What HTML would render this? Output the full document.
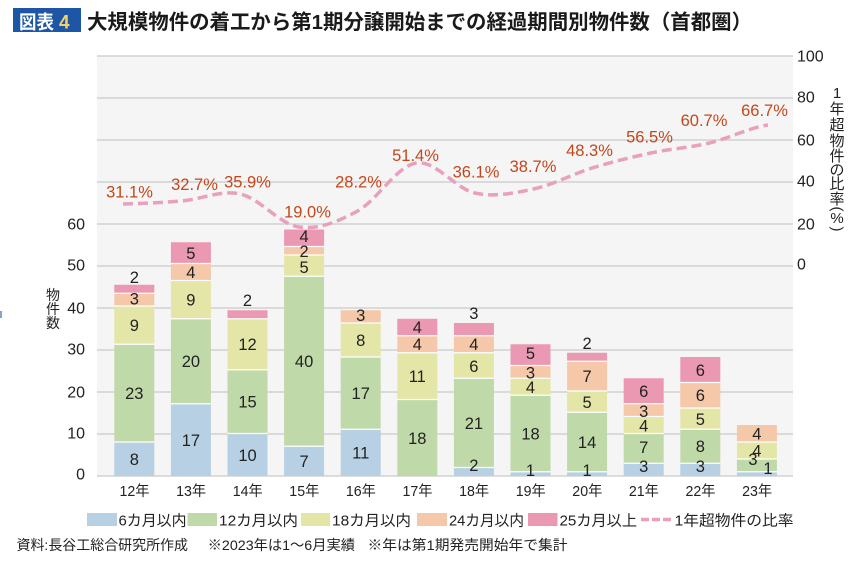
<!DOCTYPE html>
<html><head><meta charset="utf-8">
<style>
html,body{margin:0;padding:0;background:#fff;}
svg{display:block;}
text{font-family:"Liberation Sans","Noto Sans CJK JP",sans-serif;}
.n{font-size:16.5px;fill:#222;text-anchor:middle;}
.p{font-size:16.5px;fill:#c4471c;text-anchor:middle;}
.tl{font-size:16px;fill:#222;text-anchor:end;}
.tr{font-size:16px;fill:#222;}
.xl{font-size:14.5px;fill:#222;}
.lg{font-size:15px;fill:#222;}
.ft{font-size:14px;fill:#222;}
.vt{font-size:14px;fill:#222;text-anchor:middle;}
.vr{font-size:15px;fill:#222;text-anchor:middle;}
</style></head>
<body>
<svg width="854" height="561" viewBox="0 0 854 561" xmlns="http://www.w3.org/2000/svg">
<rect width="854" height="561" fill="#fff"/>
<!-- title -->
<rect x="13" y="8" width="68" height="24" fill="#1d56a5"/>
<text x="19" y="28.5" font-size="19" font-weight="bold" fill="#fff" textLength="35" lengthAdjust="spacingAndGlyphs">図表</text>
<text x="59" y="28.5" font-size="19" font-weight="bold" fill="#f2d36b">4</text>
<text x="87" y="29" font-size="20.5" font-weight="bold" fill="#1a1a1a" textLength="665" lengthAdjust="spacingAndGlyphs">大規模物件の着工から第1期分譲開始までの経過期間別物件数（首都圏）</text>

<!-- plot area -->
<rect x="97" y="56" width="696" height="420" fill="#f5f5f5"/>
<g stroke="#cbcbcb" stroke-width="1.2">
<line x1="97" y1="56" x2="793" y2="56"/>
<line x1="97" y1="98" x2="793" y2="98"/>
<line x1="97" y1="140" x2="793" y2="140"/>
<line x1="97" y1="182" x2="793" y2="182"/>
<line x1="97" y1="224" x2="793" y2="224"/>
<line x1="97" y1="266" x2="793" y2="266"/>
<line x1="97" y1="308" x2="793" y2="308"/>
<line x1="97" y1="350" x2="793" y2="350"/>
<line x1="97" y1="392" x2="793" y2="392"/>
<line x1="97" y1="434" x2="793" y2="434"/>
<line x1="97" y1="476" x2="793" y2="476"/>
</g>

<!-- left ticks -->
<text class="tl" x="85" y="229.7">60</text>
<text class="tl" x="85" y="270.7">50</text>
<text class="tl" x="85" y="313.7">40</text>
<text class="tl" x="85" y="354.7">30</text>
<text class="tl" x="85" y="397.7">20</text>
<text class="tl" x="85" y="438.7">10</text>
<text class="tl" x="85" y="479.7">0</text>
<!-- right ticks -->
<text class="tr" x="797" y="61.7">100</text>
<text class="tr" x="797" y="102.7">80</text>
<text class="tr" x="797" y="145.7">60</text>
<text class="tr" x="797" y="186.7">40</text>
<text class="tr" x="797" y="229.7">20</text>
<text class="tr" x="797" y="269.7">0</text>

<!-- left axis title -->
<text class="vt" x="53" y="300">物</text>
<text class="vt" x="53" y="314">件</text>
<text class="vt" x="53" y="328">数</text>
<!-- right axis title -->
<text class="vr" x="837" y="98">1</text>
<text class="vr" x="837" y="114">年</text>
<text class="vr" x="837" y="130">超</text>
<text class="vr" x="837" y="146">物</text>
<text class="vr" x="837" y="161">件</text>
<text class="vr" x="837" y="175">の</text>
<text class="vr" x="837" y="189">比</text>
<text class="vr" x="837" y="204">率</text>
<text class="vr" x="837" y="209" transform="rotate(90 837 209)" dominant-baseline="central">(</text>
<text class="vr" x="837" y="223" font-size="13">%</text>
<text class="vr" x="837" y="229" transform="rotate(90 837 229)" dominant-baseline="central">)</text>

<rect x="0" y="311" width="2" height="7" fill="#7aa6cf"/>

<!-- bars -->
<g>
<rect x="114.3" y="442" width="40" height="34" fill="#b8d0e3"/>
<rect x="114.3" y="344.25" width="40" height="97.75" fill="#c0d9a9"/>
<rect x="114.3" y="306" width="40" height="38.25" fill="#e3e6a7"/>
<rect x="114.3" y="293.25" width="40" height="12.75" fill="#f4c8a8"/>
<rect x="114.3" y="284.75" width="40" height="8.5" fill="#eb98b2"/>
<rect x="170.9" y="403.75" width="40" height="72.25" fill="#b8d0e3"/>
<rect x="170.9" y="318.75" width="40" height="85" fill="#c0d9a9"/>
<rect x="170.9" y="280.5" width="40" height="38.25" fill="#e3e6a7"/>
<rect x="170.9" y="263.5" width="40" height="17" fill="#f4c8a8"/>
<rect x="170.9" y="242.25" width="40" height="21.25" fill="#eb98b2"/>
<rect x="227.5" y="433.5" width="40" height="42.5" fill="#b8d0e3"/>
<rect x="227.5" y="369.75" width="40" height="63.75" fill="#c0d9a9"/>
<rect x="227.5" y="318.75" width="40" height="51" fill="#e3e6a7"/>
<rect x="227.5" y="310.25" width="40" height="8.5" fill="#eb98b2"/>
<rect x="284.1" y="446.25" width="40" height="29.75" fill="#b8d0e3"/>
<rect x="284.1" y="276.25" width="40" height="170" fill="#c0d9a9"/>
<rect x="284.1" y="255" width="40" height="21.25" fill="#e3e6a7"/>
<rect x="284.1" y="246.5" width="40" height="8.5" fill="#f4c8a8"/>
<rect x="284.1" y="229.5" width="40" height="17" fill="#eb98b2"/>
<rect x="340.7" y="429.25" width="40" height="46.75" fill="#b8d0e3"/>
<rect x="340.7" y="357" width="40" height="72.25" fill="#c0d9a9"/>
<rect x="340.7" y="323" width="40" height="34" fill="#e3e6a7"/>
<rect x="340.7" y="310.25" width="40" height="12.75" fill="#f4c8a8"/>
<rect x="397.3" y="399.5" width="40" height="76.5" fill="#c0d9a9"/>
<rect x="397.3" y="352.75" width="40" height="46.75" fill="#e3e6a7"/>
<rect x="397.3" y="335.75" width="40" height="17" fill="#f4c8a8"/>
<rect x="397.3" y="318.75" width="40" height="17" fill="#eb98b2"/>
<rect x="453.9" y="467.5" width="40" height="8.5" fill="#b8d0e3"/>
<rect x="453.9" y="378.25" width="40" height="89.25" fill="#c0d9a9"/>
<rect x="453.9" y="352.75" width="40" height="25.5" fill="#e3e6a7"/>
<rect x="453.9" y="335.75" width="40" height="17" fill="#f4c8a8"/>
<rect x="453.9" y="323" width="40" height="12.75" fill="#eb98b2"/>
<rect x="510.5" y="471.75" width="40" height="4.25" fill="#b8d0e3"/>
<rect x="510.5" y="395.25" width="40" height="76.5" fill="#c0d9a9"/>
<rect x="510.5" y="378.25" width="40" height="17" fill="#e3e6a7"/>
<rect x="510.5" y="365.5" width="40" height="12.75" fill="#f4c8a8"/>
<rect x="510.5" y="344.25" width="40" height="21.25" fill="#eb98b2"/>
<rect x="567.1" y="471.75" width="40" height="4.25" fill="#b8d0e3"/>
<rect x="567.1" y="412.25" width="40" height="59.5" fill="#c0d9a9"/>
<rect x="567.1" y="391" width="40" height="21.25" fill="#e3e6a7"/>
<rect x="567.1" y="361.25" width="40" height="29.75" fill="#f4c8a8"/>
<rect x="567.1" y="352.75" width="40" height="8.5" fill="#eb98b2"/>
<rect x="623.7" y="463.25" width="40" height="12.75" fill="#b8d0e3"/>
<rect x="623.7" y="433.5" width="40" height="29.75" fill="#c0d9a9"/>
<rect x="623.7" y="416.5" width="40" height="17" fill="#e3e6a7"/>
<rect x="623.7" y="403.75" width="40" height="12.75" fill="#f4c8a8"/>
<rect x="623.7" y="378.25" width="40" height="25.5" fill="#eb98b2"/>
<rect x="680.3" y="463.25" width="40" height="12.75" fill="#b8d0e3"/>
<rect x="680.3" y="429.25" width="40" height="34" fill="#c0d9a9"/>
<rect x="680.3" y="408" width="40" height="21.25" fill="#e3e6a7"/>
<rect x="680.3" y="382.5" width="40" height="25.5" fill="#f4c8a8"/>
<rect x="680.3" y="357" width="40" height="25.5" fill="#eb98b2"/>
<rect x="736.9" y="471.75" width="40" height="4.25" fill="#b8d0e3"/>
<rect x="736.9" y="459" width="40" height="12.75" fill="#c0d9a9"/>
<rect x="736.9" y="442" width="40" height="17" fill="#e3e6a7"/>
<rect x="736.9" y="425" width="40" height="17" fill="#f4c8a8"/>
</g>
<!-- separators -->
<g stroke="#ffffff" stroke-width="1.3">
<line x1="114.3" x2="154.3" y1="442" y2="442"/><line x1="114.3" x2="154.3" y1="344.25" y2="344.25"/><line x1="114.3" x2="154.3" y1="306" y2="306"/><line x1="114.3" x2="154.3" y1="293.25" y2="293.25"/>
<line x1="170.9" x2="210.9" y1="403.75" y2="403.75"/><line x1="170.9" x2="210.9" y1="318.75" y2="318.75"/><line x1="170.9" x2="210.9" y1="280.5" y2="280.5"/><line x1="170.9" x2="210.9" y1="263.5" y2="263.5"/>
<line x1="227.5" x2="267.5" y1="433.5" y2="433.5"/><line x1="227.5" x2="267.5" y1="369.75" y2="369.75"/><line x1="227.5" x2="267.5" y1="318.75" y2="318.75"/>
<line x1="284.1" x2="324.1" y1="446.25" y2="446.25"/><line x1="284.1" x2="324.1" y1="276.25" y2="276.25"/><line x1="284.1" x2="324.1" y1="255" y2="255"/><line x1="284.1" x2="324.1" y1="246.5" y2="246.5"/>
<line x1="340.7" x2="380.7" y1="429.25" y2="429.25"/><line x1="340.7" x2="380.7" y1="357" y2="357"/><line x1="340.7" x2="380.7" y1="323" y2="323"/>
<line x1="397.3" x2="437.3" y1="399.5" y2="399.5"/><line x1="397.3" x2="437.3" y1="352.75" y2="352.75"/><line x1="397.3" x2="437.3" y1="335.75" y2="335.75"/>
<line x1="453.9" x2="493.9" y1="467.5" y2="467.5"/><line x1="453.9" x2="493.9" y1="378.25" y2="378.25"/><line x1="453.9" x2="493.9" y1="352.75" y2="352.75"/><line x1="453.9" x2="493.9" y1="335.75" y2="335.75"/>
<line x1="510.5" x2="550.5" y1="471.75" y2="471.75"/><line x1="510.5" x2="550.5" y1="395.25" y2="395.25"/><line x1="510.5" x2="550.5" y1="378.25" y2="378.25"/><line x1="510.5" x2="550.5" y1="365.5" y2="365.5"/>
<line x1="567.1" x2="607.1" y1="471.75" y2="471.75"/><line x1="567.1" x2="607.1" y1="412.25" y2="412.25"/><line x1="567.1" x2="607.1" y1="391" y2="391"/><line x1="567.1" x2="607.1" y1="361.25" y2="361.25"/>
<line x1="623.7" x2="663.7" y1="463.25" y2="463.25"/><line x1="623.7" x2="663.7" y1="433.5" y2="433.5"/><line x1="623.7" x2="663.7" y1="416.5" y2="416.5"/><line x1="623.7" x2="663.7" y1="403.75" y2="403.75"/>
<line x1="680.3" x2="720.3" y1="463.25" y2="463.25"/><line x1="680.3" x2="720.3" y1="429.25" y2="429.25"/><line x1="680.3" x2="720.3" y1="408" y2="408"/><line x1="680.3" x2="720.3" y1="382.5" y2="382.5"/>
<line x1="736.9" x2="776.9" y1="471.75" y2="471.75"/><line x1="736.9" x2="776.9" y1="459" y2="459"/><line x1="736.9" x2="776.9" y1="442" y2="442"/>
</g>

<!-- segment labels -->
<g>
<text class="n" x="134.3" y="465">8</text><text class="n" x="134.3" y="399">23</text><text class="n" x="134.3" y="331">9</text><text class="n" x="134.3" y="304.5">3</text><text class="n" x="134.3" y="283">2</text>
<text class="n" x="190.9" y="446">17</text><text class="n" x="190.9" y="367">20</text><text class="n" x="190.9" y="305.5">9</text><text class="n" x="190.9" y="278">4</text><text class="n" x="190.9" y="259">5</text>
<text class="n" x="247.5" y="461">10</text><text class="n" x="247.5" y="407.5">15</text><text class="n" x="247.5" y="350">12</text><text class="n" x="247.5" y="306">2</text>
<text class="n" x="304.1" y="467">7</text><text class="n" x="304.1" y="367">40</text><text class="n" x="304.1" y="273">5</text><text class="n" x="304.1" y="257">2</text><text class="n" x="304.1" y="242">4</text>
<text class="n" x="360.7" y="458.5">11</text><text class="n" x="360.7" y="399">17</text><text class="n" x="360.7" y="346">8</text><text class="n" x="360.7" y="321">3</text>
<text class="n" x="417.3" y="443.75">18</text><text class="n" x="417.3" y="382">11</text><text class="n" x="417.3" y="350">4</text><text class="n" x="417.3" y="333">4</text>
<text class="n" x="473.9" y="471">2</text><text class="n" x="473.9" y="429">21</text><text class="n" x="473.9" y="372">6</text><text class="n" x="473.9" y="350">4</text><text class="n" x="473.9" y="319">3</text>
<text class="n" x="530.5" y="476">1</text><text class="n" x="530.5" y="439.5">18</text><text class="n" x="530.5" y="393">4</text><text class="n" x="530.5" y="378.5">3</text><text class="n" x="530.5" y="359">5</text>
<text class="n" x="587.1" y="476">1</text><text class="n" x="587.1" y="448">14</text><text class="n" x="587.1" y="408">5</text><text class="n" x="587.1" y="382">7</text><text class="n" x="587.1" y="349">2</text>
<text class="n" x="643.7" y="472">3</text><text class="n" x="643.7" y="453">7</text><text class="n" x="643.7" y="431.5">4</text><text class="n" x="643.7" y="417">3</text><text class="n" x="643.7" y="397">6</text>
<text class="n" x="700.3" y="472">3</text><text class="n" x="700.3" y="452">8</text><text class="n" x="700.3" y="425">5</text><text class="n" x="700.3" y="401">6</text><text class="n" x="700.3" y="376">6</text>
<text class="n" x="753" y="465">3</text><text class="n" x="768" y="474">1</text><text class="n" x="756.9" y="456.5">4</text><text class="n" x="756.9" y="439.5">4</text>
</g>

<!-- ratio line -->
<path d="M123,204 C142.5,203.5 162.1,202.67 181.6,201 C201.1,199.33 220.8,189.67 240.3,194 C259.8,198.33 279.4,224.17 298.9,227 C318.4,229.83 338.1,221.67 357.6,211 C377.1,200.33 396.7,166 416.2,163 C435.7,160 455.3,188.67 474.8,193 C494.3,197.33 514,193.17 533.5,189 C553,184.83 572.6,174 592.1,168 C611.6,162 631.3,157.17 650.8,153 C670.3,148.83 689.9,147.67 709.4,143 C728.9,138.33 748.5,128 768,125" fill="none" stroke="#e9a0bc" stroke-width="3.5" stroke-dasharray="10 5"/>

<!-- percentage labels -->
<g>
<text class="p" x="129.5" y="197.6">31.1%</text>
<text class="p" x="194.5" y="189.9">32.7%</text>
<text class="p" x="247.5" y="187.6">35.9%</text>
<text class="p" x="307.5" y="217.6">19.0%</text>
<text class="p" x="358.5" y="187.6">28.2%</text>
<text class="p" x="415.5" y="160.9">51.4%</text>
<text class="p" x="476" y="177.6">36.1%</text>
<text class="p" x="533" y="171.9">38.7%</text>
<text class="p" x="589.5" y="155.9">48.3%</text>
<text class="p" x="649.5" y="142.6">56.5%</text>
<text class="p" x="704" y="125.9">60.7%</text>
<text class="p" x="764.5" y="115.9">66.7%</text>
</g>

<!-- x labels -->
<g>
<text class="xl" x="119.5" y="496" textLength="30" lengthAdjust="spacingAndGlyphs">12年</text>
<text class="xl" x="176.1" y="496" textLength="30" lengthAdjust="spacingAndGlyphs">13年</text>
<text class="xl" x="232.7" y="496" textLength="30" lengthAdjust="spacingAndGlyphs">14年</text>
<text class="xl" x="289.3" y="496" textLength="30" lengthAdjust="spacingAndGlyphs">15年</text>
<text class="xl" x="345.9" y="496" textLength="30" lengthAdjust="spacingAndGlyphs">16年</text>
<text class="xl" x="402.5" y="496" textLength="30" lengthAdjust="spacingAndGlyphs">17年</text>
<text class="xl" x="459.1" y="496" textLength="30" lengthAdjust="spacingAndGlyphs">18年</text>
<text class="xl" x="515.7" y="496" textLength="30" lengthAdjust="spacingAndGlyphs">19年</text>
<text class="xl" x="572.3" y="496" textLength="30" lengthAdjust="spacingAndGlyphs">20年</text>
<text class="xl" x="628.9" y="496" textLength="30" lengthAdjust="spacingAndGlyphs">21年</text>
<text class="xl" x="685.5" y="496" textLength="30" lengthAdjust="spacingAndGlyphs">22年</text>
<text class="xl" x="742.1" y="496" textLength="30" lengthAdjust="spacingAndGlyphs">23年</text>
</g>

<!-- legend -->
<g>
<rect x="87" y="513" width="30" height="13" fill="#b8d0e3"/>
<text class="lg" x="118.5" y="525.5" textLength="68" lengthAdjust="spacingAndGlyphs">6カ月以内</text>
<rect x="187.5" y="513" width="29.5" height="13" fill="#c0d9a9"/>
<text class="lg" x="219" y="525.5" textLength="79" lengthAdjust="spacingAndGlyphs">12カ月以内</text>
<rect x="301" y="513" width="29" height="13" fill="#e3e6a7"/>
<text class="lg" x="332" y="525.5" textLength="79" lengthAdjust="spacingAndGlyphs">18カ月以内</text>
<rect x="417" y="513" width="30" height="13" fill="#f4c8a8"/>
<text class="lg" x="449" y="525.5" textLength="75" lengthAdjust="spacingAndGlyphs">24カ月以内</text>
<rect x="528" y="513" width="29.5" height="13" fill="#eb98b2"/>
<text class="lg" x="559.5" y="525.5" textLength="77.5" lengthAdjust="spacingAndGlyphs">25カ月以上</text>
<line x1="641" y1="519.5" x2="671" y2="519.5" stroke="#e9a0bc" stroke-width="3.5" stroke-dasharray="8 3"/>
<text class="lg" x="674.5" y="525.5" textLength="119" lengthAdjust="spacingAndGlyphs">1年超物件の比率</text>
</g>

<!-- footer -->
<text class="ft" x="16.5" y="550" textLength="171.5" lengthAdjust="spacingAndGlyphs">資料:長谷工総合研究所作成</text>
<text class="ft" x="207.7" y="550" textLength="147.3" lengthAdjust="spacingAndGlyphs">※2023年は1～6月実績</text>
<text class="ft" x="367.5" y="550" textLength="200" lengthAdjust="spacingAndGlyphs">※年は第1期発売開始年で集計</text>
</svg>
</body></html>
